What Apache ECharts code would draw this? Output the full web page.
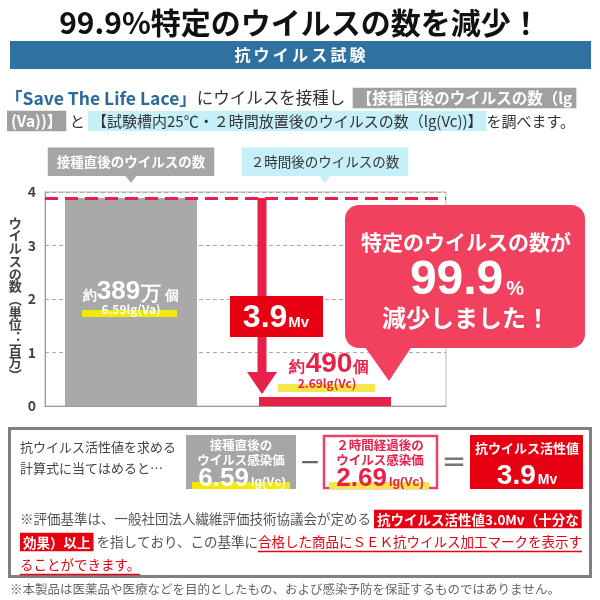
<!DOCTYPE html>
<html>
<head>
<meta charset="utf-8">
<script src="https://cdn.jsdelivr.net/npm/echarts@6/dist/echarts.min.js"></script>
<style>
  html, body { margin: 0; padding: 0; background: #fff; }
  #main { width: 600px; height: 600px; }
</style>
</head>
<body>
<div id="main"></div>
<script>
// data
var categories = ['接種直後のウイルスの数', '２時間後のウイルスの数'];
var virusCounts = [3.89, 0.00049];          // 百万個 (389万個 / 490個)
var yTicks = [0, 1, 2, 3, 4];
var lgValues = [6.59, 2.69];                 // lg(Va), lg(Vc)
var activityValue = 3.9;                     // Mv
var yAxisName = 'ウイルスの数︵単位︓百万︶';

var FONT = '"Noto Sans CJK JP", "Noto Sans", sans-serif';
var RED = '#e8214a';
var BOX_RED = '#e60012';
var GRAY = '#a6a6a6';

var chart = echarts.init(document.getElementById('main'));

var ctx = document.createElement('canvas').getContext('2d');
function tw(s, size, weight) {
  ctx.font = (weight || 'normal') + ' ' + size + 'px ' + FONT;
  return ctx.measureText(s).width;
}

// text helper for graphic elements
function txt(x, y, text, opt) {
  var st = { x: x, y: y, text: text, fontFamily: FONT, fontSize: 14, fill: '#333',
             align: 'left', verticalAlign: 'middle' };
  for (var k in opt) st[k] = opt[k];
  st.textAlign = st.align;
  st.textVerticalAlign = st.verticalAlign;
  return { type: 'text', z: 100, style: st };
}
function rect(x, y, w, h, fill, extra) {
  var el = { type: 'rect', z: 99, shape: { x: x, y: y, width: w, height: h }, style: { fill: fill } };
  if (extra) {
    if (extra.r) el.shape.r = extra.r;
    if (extra.stroke) { el.style.stroke = extra.stroke; el.style.lineWidth = extra.lineWidth; }
    if (extra.z) el.z = extra.z;
  }
  return el;
}

var option = {
  animation: false,
  textStyle: { fontFamily: FONT },
  grid: [
    { left: 45, top: 192, width: 401, height: 214, show: true, borderColor: '#b8b8b8', borderWidth: 1 },
    { left: 34, top: 192, width: 388, height: 214 }
  ],
  xAxis: [
    { gridIndex: 0, type: 'category', data: categories,
      axisLine: { lineStyle: { color: '#999', width: 1 } }, axisTick: { show: false }, axisLabel: { show: false } },
    { gridIndex: 1, type: 'category', data: categories, position: 'top',
      axisLine: { show: false }, axisTick: { show: false },
      axisLabel: {
        interval: 0,
        margin: 16,
        formatter: function (v, i) { return i === 0 ? '{g|' + v + '}' : '{c|' + v + '}'; },
        rich: {
          g: { backgroundColor: GRAY, color: '#fff', fontWeight: 'bold', fontSize: 13.5, padding: [8, 9, 7, 9], fontFamily: FONT },
          c: { backgroundColor: '#c6eff8', color: '#333', fontSize: 13.5, padding: [8, 9, 7, 9], fontFamily: FONT }
        }
      } }
  ],
  yAxis: [
    { gridIndex: 0, type: 'value', min: yTicks[0], max: yTicks[yTicks.length - 1], interval: 1,
      axisLine: { show: true, lineStyle: { color: '#999' } }, axisTick: { show: false },
      axisLabel: { color: '#444', fontWeight: 'bold', fontSize: 14, margin: 9 },
      splitLine: { lineStyle: { type: [4, 3], color: '#aaa' } },
      name: yAxisName.split('').join('\n'), nameLocation: 'middle', nameRotate: 0, nameGap: 18,
      nameTextStyle: { color: '#444', fontWeight: 'bold', fontSize: 13, lineHeight: 12.7, align: 'center', padding: [8, 0, 0, 0] } },
    { gridIndex: 1, type: 'value', min: yTicks[0], max: yTicks[yTicks.length - 1], show: false }
  ],
  series: [
    { type: 'bar', xAxisIndex: 1, yAxisIndex: 1, barWidth: 132, barMinHeight: 9, silent: true,
      data: virusCounts.map(function (v, i) { return { value: v, itemStyle: { color: i ? RED : '#a9a9a9' } }; }) },
    { type: 'line', xAxisIndex: 0, yAxisIndex: 0, data: ['-', '-'], symbol: 'none', silent: true,
      markLine: { symbol: 'none', silent: true, label: { show: false },
        lineStyle: { color: RED, width: 3, type: [13, 7] },
        data: [{ yAxis: virusCounts[0] }] } }
  ]
};
chart.setOption(option);

// pixel positions from the axes
var pTop = chart.convertToPixel({ gridIndex: 1 }, [1, virusCounts[0]]);
var pZero = chart.convertToPixel({ gridIndex: 1 }, [1, 0]);
var pBar0 = chart.convertToPixel({ gridIndex: 1 }, [0, 0]);
var arrowX = pTop[0] - 66 + 3;
var headTop = pZero[1] - 34;

var g = [];
// title + banner
g.push(txt(300, 23, '99.9%特定のウイルスの数を減少！', { align: 'center', fontSize: 30, fontWeight: 'bold', fill: '#111' }));
g.push(rect(10, 41, 581, 28, '#2f72a1'));
g.push(txt(300, 55, '抗\u2009ウ\u2009イ\u2009ル\u2009ス\u2009試\u2009験', { align: 'center', fontSize: 16, fontWeight: 'bold', fill: '#fff' }));

// intro lines
var introRich = {
  b: { fontSize: 17.5, fontWeight: 'bold', fill: '#2b6b9b', fontFamily: FONT },
  n: { fontSize: 16.5, fill: '#333', fontFamily: FONT },
  m: { fontSize: 15, fill: '#333', fontFamily: FONT },
  g: { fontSize: 15.5, fontWeight: 'bold', fill: '#fff', backgroundColor: '#a0a0a0', padding: [3, 4, 2, 4], fontFamily: FONT },
  c: { fontSize: 15, fill: '#333', backgroundColor: '#c6eff8', padding: [3, 4, 2, 4], fontFamily: FONT }
};
g.push(txt(5, 98, '{b|「Save The Life Lace」}{n|にウイルスを接種し  }{g|【接種直後のウイルスの数（lg}', { rich: introRich }));
g.push(txt(7, 121, '{g|(Va))】}{m| と }{c|【試験槽内25℃・２時間放置後のウイルスの数（lg(Vc))】}{m|を調べます。}', { rich: introRich }));

// label pointers
[pBar0[0], pTop[0]].forEach(function (x, i) {
  g.push({ type: 'polygon', z: 99, shape: { points: [[x - 6, 175], [x + 6, 175], [x, 183]] }, style: { fill: i ? '#c6eff8' : GRAY } });
});

// gray bar labels
g.push(rect(pBar0[0] - 49, 310, 95, 7, '#f2ea00'));
g.push(txt(pBar0[0], 292, '{s|約}{b|389}{m|万}{s|個}', { align: 'center',
  rich: { s: { fontSize: 14, fontWeight: 'bold', fill: '#fff', verticalAlign: 'bottom', padding: [0, 0, 2, 0] },
          b: { fontSize: 26, fontWeight: 'bold', fill: '#fff', verticalAlign: 'bottom' },
          m: { fontSize: 20, fontWeight: 'bold', fill: '#fff', verticalAlign: 'bottom', padding: [0, 4, 1, 1] } } }));
g.push(txt(pBar0[0], 309, lgValues[0] + 'lg(Va)', { align: 'center', fontSize: 12, fontWeight: 'bold', fill: '#fff' }));

// arrow
g.push(rect(arrowX - 4.5, pTop[1], 9, headTop - pTop[1] + 1, RED));
g.push({ type: 'polygon', z: 99, shape: { points: [[arrowX - 15, headTop], [arrowX + 15, headTop], [arrowX, pZero[1] - 12]] }, style: { fill: RED } });

// 3.9Mv box
g.push(rect(230, 296, 93, 41, BOX_RED, { z: 101 }));
g.push(Object.assign(txt(276, 318, '{b|' + activityValue + '}{s|Mv}', { align: 'center',
  rich: { b: { fontSize: 32, fontWeight: 'bold', fill: '#fff', verticalAlign: 'bottom' },
          s: { fontSize: 15, fontWeight: 'bold', fill: '#fff', verticalAlign: 'bottom', padding: [0, 0, 4, 1] } } }), { z: 102 }));

// 490 label
g.push(rect(278, 384, 97, 8, '#f5e64a'));
g.push(txt(329, 364, '{s|約}{b|490}{s|個}', { align: 'center',
  rich: { s: { fontSize: 16, fontWeight: 'bold', fill: RED, verticalAlign: 'bottom', padding: [0, 1, 2, 1] },
          b: { fontSize: 28, fontWeight: 'bold', fill: RED, verticalAlign: 'bottom' } } }));
g.push(txt(327, 383, lgValues[1] + 'lg(Vc)', { align: 'center', fontSize: 12, fontWeight: 'bold', fill: RED }));

// speech bubble
g.push({ type: 'polygon', z: 99, shape: { points: [[360, 340], [416, 340], [389, 381]] }, style: { fill: '#f2405f' } });
g.push(rect(345, 205, 240, 143, '#f2405f', { r: 14 }));
g.push(txt(466, 242, '特定のウイルスの数が', { align: 'center', fontSize: 21, fontWeight: 'bold', fill: '#fff' }));
g.push(txt(467, 281, '{b|99.9}{s|%}', { align: 'center',
  rich: { b: { fontSize: 48, fontWeight: 'bold', fill: '#fff', verticalAlign: 'bottom' },
          s: { fontSize: 20, fontWeight: 'bold', fill: '#fff', verticalAlign: 'bottom', padding: [0, 0, 6, 3] } } }));
g.push(txt(466, 318, '減少しました！', { align: 'center', fontSize: 24, fontWeight: 'bold', fill: '#fff' }));

// formula box
g.push({ type: 'rect', z: 98, shape: { x: 9.5, y: 428.5, width: 581, height: 148 }, style: { fill: 'none', stroke: '#808080', lineWidth: 3 } });
g.push(txt(20, 447, '抗ウイルス活性値を求める', { fontSize: 13, fill: '#444' }));
g.push(txt(20, 468, '計算式に当てはめると…', { fontSize: 13, fill: '#444' }));

g.push(rect(186, 435, 110, 54, GRAY));
g.push(rect(192, 482, 98, 7, '#f2ea00', { z: 100 }));
g.push(txt(241, 445, '接種直後の', { align: 'center', fontSize: 12.5, fontWeight: 'bold', fill: '#fff' }));
g.push(txt(241, 460, 'ウイルス感染価', { align: 'center', fontSize: 12.5, fontWeight: 'bold', fill: '#fff' }));
g.push(Object.assign(txt(242, 479, '{b|' + lgValues[0] + '}{s|lg(Vc)}', { align: 'center',
  rich: { b: { fontSize: 26, fontWeight: 'bold', fill: '#fff', verticalAlign: 'bottom' },
          s: { fontSize: 12.5, fontWeight: 'bold', fill: '#fff', verticalAlign: 'bottom', padding: [0, 0, 3, 2] } } }), { z: 101 }));

g.push(txt(310, 462, '－', { align: 'center', fontSize: 22, fontWeight: 'bold', fill: '#666' }));

g.push(rect(324, 436, 113, 52, '#fff', { stroke: '#e8426a', lineWidth: 2.5 }));
g.push(rect(329, 482, 100, 7, '#f5e64a', { z: 100 }));
g.push(txt(380, 445, '２時間経過後の', { align: 'center', fontSize: 12.5, fontWeight: 'bold', fill: RED }));
g.push(txt(380, 460, 'ウイルス感染価', { align: 'center', fontSize: 12.5, fontWeight: 'bold', fill: RED }));
g.push(Object.assign(txt(380, 479, '{b|' + lgValues[1] + '}{s|lg(Vc)}', { align: 'center',
  rich: { b: { fontSize: 26, fontWeight: 'bold', fill: RED, verticalAlign: 'bottom' },
          s: { fontSize: 12.5, fontWeight: 'bold', fill: RED, verticalAlign: 'bottom', padding: [0, 0, 3, 2] } } }), { z: 101 }));

g.push(txt(454, 462, '＝', { align: 'center', fontSize: 26, fontWeight: 'bold', fill: '#777' }));

g.push(rect(470, 435, 113, 54, BOX_RED));
g.push(txt(527, 448, '抗ウイルス活性値', { align: 'center', fontSize: 13, fontWeight: 'bold', fill: '#fff' }));
g.push(txt(527, 476, '{b|' + activityValue + '}{s|Mv}', { align: 'center',
  rich: { b: { fontSize: 28, fontWeight: 'bold', fill: '#fff', verticalAlign: 'bottom' },
          s: { fontSize: 14, fontWeight: 'bold', fill: '#fff', verticalAlign: 'bottom', padding: [0, 0, 3, 2] } } }));

// criteria text
var noteRich = {
  n: { fontSize: 13.5, fill: '#555', fontFamily: FONT },
  r: { fontSize: 13.5, fontWeight: 'bold', fill: '#fff', backgroundColor: BOX_RED, padding: [3, 3, 2, 3], fontFamily: FONT },
  u: { fontSize: 13.5, fill: BOX_RED, fontFamily: FONT }
};
g.push(txt(20, 519, '{n|※評価基準は、一般社団法人繊維評価技術協議会が定める }{r|抗ウイルス活性値3.0Mv（十分な}', { rich: noteRich }));
g.push(txt(20, 542, '{r|効果）以上}{n| を指しており、この基準に}{u|合格した商品にＳＥＫ抗ウイルス加工マークを表示す}', { rich: noteRich }));
g.push(txt(20, 565, '{u|ることができます。}', { rich: noteRich }));
var u2 = 20 + 6 + tw('効果）以上', 13.5, 'bold') + tw(' を指しており、この基準に', 13.5);
var u2end = u2 + tw('合格した商品にＳＥＫ抗ウイルス加工マークを表示す', 13.5);
g.push({ type: 'line', z: 100, shape: { x1: u2, y1: 551.5, x2: u2end, y2: 551.5 }, style: { stroke: BOX_RED, lineWidth: 1.3 } });
g.push({ type: 'line', z: 100, shape: { x1: 20, y1: 574.5, x2: 20 + tw('ることができます。', 13.5), y2: 574.5 }, style: { stroke: BOX_RED, lineWidth: 1.3 } });

g.push(txt(10, 589, '※本製品は医薬品や医療などを目的としたもの、および感染予防を保証するものではありません。', { fontSize: 12.5, fill: '#666' }));

chart.setOption({ graphic: g });
</script>
</body>
</html>
